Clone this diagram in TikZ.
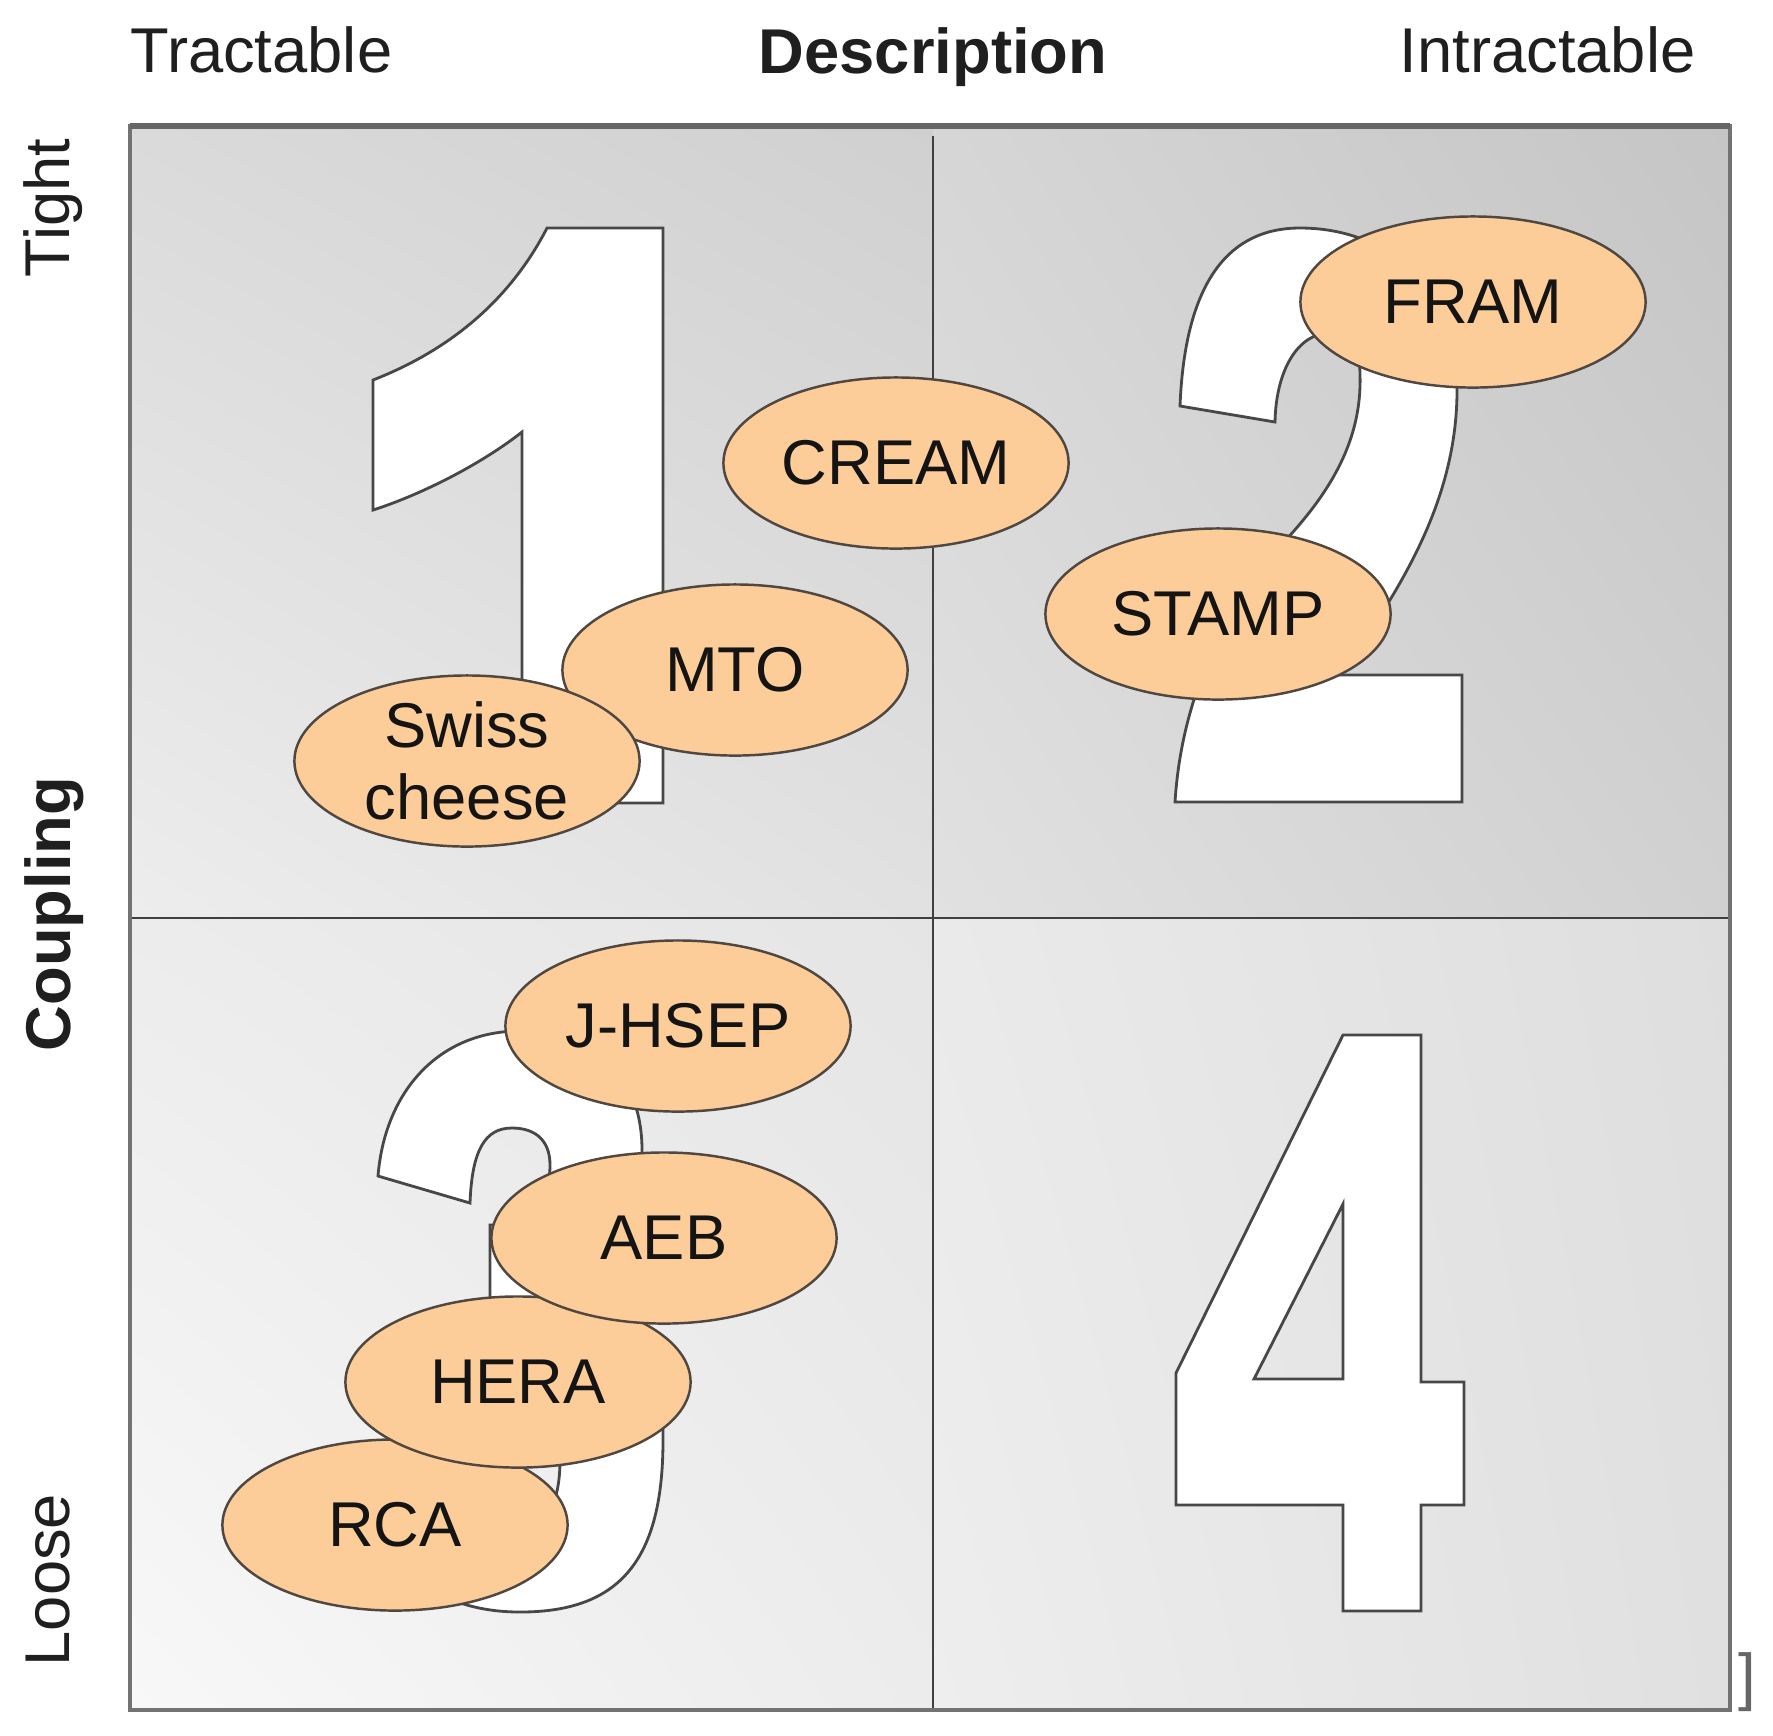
\documentclass[tikz,border=0pt]{standalone}
\usepackage{fontspec}
\setmainfont{Liberation Sans}
\usepackage{xcolor}
\usepackage{tikz}
\usetikzlibrary{shapes.geometric, shadings}
\definecolor{peach}{RGB}{252,204,153}
\definecolor{rim}{RGB}{80,72,64}
\definecolor{qaul}{RGB}{218,218,218}\definecolor{qaur}{RGB}{208,208,208}
\definecolor{qall}{RGB}{237,237,237}\definecolor{qalr}{RGB}{225,225,225}
\definecolor{qbul}{RGB}{214,214,214}\definecolor{qbur}{RGB}{197,197,197}
\definecolor{qbll}{RGB}{225,225,225}\definecolor{qblr}{RGB}{209,209,209}
\definecolor{qcul}{RGB}{236,236,236}\definecolor{qcur}{RGB}{229,229,229}
\definecolor{qcll}{RGB}{248,248,248}\definecolor{qclr}{RGB}{236,236,236}
\definecolor{qdul}{RGB}{234,234,234}\definecolor{qdur}{RGB}{222,222,222}
\definecolor{qdll}{RGB}{238,238,238}\definecolor{qdlr}{RGB}{224,224,224}
\tikzstyle{method} = [ellipse, draw=rim, line width=0.7pt, fill=peach, minimum width=3.45cm, minimum height=1.71cm, inner sep=0pt, align=center, font=\fontsize{18}{20.5}\selectfont, text=black!92]
\tikzstyle{digit} = [draw=black!72, line width=0.8pt, fill=white, even odd rule]
\tikzstyle{axislabel} = [font=\fontsize{18}{21}\selectfont, text=black!88, inner sep=0pt]

\begin{document}
\begin{tikzpicture}[x=0.01cm, y=-0.01cm]
\useasboundingbox (0,0) rectangle (1773,1735);
\fill[white] (0,0) rectangle (1773,1735);

% Quadrant backgrounds
\shade[upper left=qaul, upper right=qaur, lower left=qall, lower right=qalr] (130,126) rectangle (933,918);
\shade[upper left=qbul, upper right=qbur, lower left=qbll, lower right=qblr] (933,126) rectangle (1730,918);
\shade[upper left=qcul, upper right=qcur, lower left=qcll, lower right=qclr] (130,918) rectangle (933,1710);
\shade[upper left=qdul, upper right=qdur, lower left=qdll, lower right=qdlr] (933,918) rectangle (1730,1710);

% Dividers
\draw[black!75, line width=0.6pt] (933,136) -- (933,1710);
\draw[black!75, line width=0.6pt] (130,918) -- (1730,918);

% Digit 1
\draw[digit] (547,228) -- (663,228) -- (663,803) -- (522,803) -- (522,432)
  .. controls (480,465) and (420,495) .. (373,510) -- (373,380)
  .. controls (450,350) and (510,300) .. (547,228) -- cycle;

% Digit 2
\draw[digit] (1175,802) -- (1462,802) -- (1462,675) -- (1340,675)
  .. controls (1400,590) and (1458,500) .. (1457,387)
  .. controls (1457,290) and (1390,228) .. (1300,228)
  .. controls (1230,228) and (1185,280) .. (1180,406) -- (1275,422)
  .. controls (1276,370) and (1298,333) .. (1330,333)
  .. controls (1350,333) and (1360,350) .. (1360,375)
  .. controls (1362,440) and (1330,490) .. (1293,532)
  .. controls (1230,600) and (1182,690) .. (1175,802) -- cycle;

% Digit 3
\draw[digit] (378,1176) .. controls (385,1090) and (440,1031) .. (520,1031)
  .. controls (600,1031) and (642,1080) .. (642,1150)
  .. controls (642,1200) and (620,1240) .. (590,1262)
  .. controls (640,1290) and (663,1360) .. (663,1440)
  .. controls (663,1560) and (620,1612) .. (520,1612)
  .. controls (440,1612) and (380,1570) .. (370,1490) -- (455,1475)
  .. controls (462,1515) and (490,1532) .. (515,1532)
  .. controls (545,1532) and (560,1505) .. (560,1460)
  .. controls (560,1340) and (530,1300) .. (490,1300) -- (490,1225)
  .. controls (530,1225) and (550,1200) .. (550,1165)
  .. controls (550,1140) and (535,1128) .. (512,1128)
  .. controls (485,1128) and (472,1150) .. (470,1203) -- cycle;

% Digit 4
\draw[digit] (1343,1035) -- (1421,1035) -- (1421,1382) -- (1464,1382) -- (1464,1505)
  -- (1421,1505) -- (1421,1611) -- (1343,1611) -- (1343,1505) -- (1176,1505)
  -- (1176,1373) -- cycle
  (1254,1379) -- (1343,1379) -- (1343,1204) -- cycle;

% Methods
\node[method] (mto) at (735,670) {MTO};
\node[method] (swiss) at (467,761) {Swiss\\cheese};
\node[method] (cream) at (896,463) {CREAM};
\node[method] (fram) at (1473,302) {FRAM};
\node[method] (stamp) at (1218,614) {STAMP};
\node[method] (rca) at (395,1525) {RCA};
\node[method] (hera) at (518,1382) {HERA};
\node[method] (aeb) at (664,1238) {AEB};
\node[method] (jhsep) at (678,1026) {J-HSEP};

% Frame
\draw[black!55, line width=1.1pt] (130,126) rectangle (1730,1710);
\draw[black!60, line width=1.8pt] (130,126) -- (1730,126);
\node[text=black!60, font=\fontsize{18}{18}\selectfont, inner sep=0pt] (bracket) at (1747,1682) {]};

% Axis labels
\node[axislabel, anchor=base west] (tractable) at (130,72) {Tractable};
\node[axislabel, anchor=base, font=\fontsize{18}{21}\selectfont\bfseries] (descr) at (933,73) {Description};
\node[axislabel, anchor=base east] (intractable) at (1696,72) {Intractable};
\node[axislabel, rotate=90, anchor=base] (tight) at (69,208) {Tight};
\node[axislabel, rotate=90, anchor=base, font=\fontsize{18}{21}\selectfont\bfseries] (coupling) at (70,914) {Coupling};
\node[axislabel, rotate=90, anchor=base] (loose) at (69,1580) {Loose};
\end{tikzpicture}
\end{document}
